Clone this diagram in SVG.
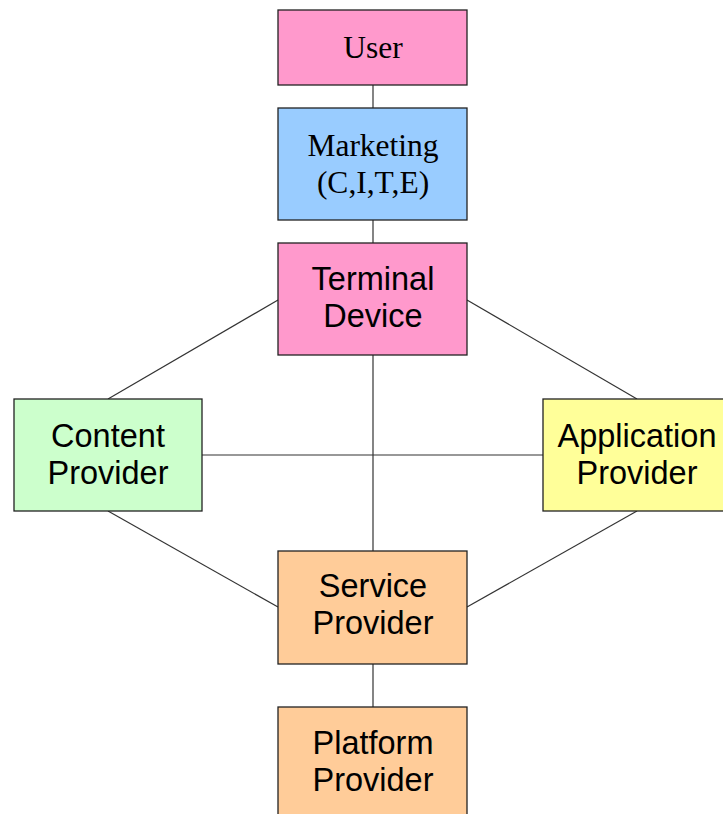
<svg xmlns="http://www.w3.org/2000/svg" width="723" height="814" viewBox="0 0 723 814">
  <style>
    .box { stroke: #222; stroke-width: 1.3; }
    .serif { font-family: "Liberation Serif", "Times New Roman", serif; font-size: 31.5px; fill: #000; text-anchor: middle; }
    .sans { font-family: "Liberation Sans", Arial, sans-serif; font-size: 32.5px; fill: #000; text-anchor: middle; }
    .link { stroke: #333; stroke-width: 1.2; fill: none; }
  </style>
  <rect width="723" height="814" fill="#fff"/>

  <!-- connectors -->
  <g id="connectors">
    <line class="link" x1="373" y1="85" x2="373" y2="108"/>
    <line class="link" x1="373" y1="220" x2="373" y2="243"/>
    <line class="link" x1="373" y1="355" x2="373" y2="551"/>
    <line class="link" x1="373" y1="664" x2="373" y2="707"/>
    <line class="link" x1="278" y1="300" x2="108" y2="399"/>
    <line class="link" x1="467" y1="300" x2="637" y2="399"/>
    <line class="link" x1="108" y1="511" x2="278" y2="607"/>
    <line class="link" x1="637" y1="511" x2="467" y2="607"/>
    <line class="link" x1="202" y1="455" x2="543" y2="455"/>
  </g>

  <g id="user">
    <rect class="box" x="278" y="10" width="189" height="75" fill="#FF99CC"/>
    <text class="serif" x="373" y="58">User</text>
  </g>

  <g id="marketing">
    <rect class="box" x="278" y="108" width="189" height="112" fill="#99CCFF"/>
    <text class="serif" x="373" y="156">Marketing</text>
    <text class="serif" x="373" y="193">(C,I,T,E)</text>
  </g>

  <g id="terminal-device">
    <rect class="box" x="278" y="243" width="189" height="112" fill="#FF99CC"/>
    <text class="sans" x="373" y="290">Terminal</text>
    <text class="sans" x="373" y="327">Device</text>
  </g>

  <g id="content-provider">
    <rect class="box" x="14" y="399" width="188" height="112" fill="#CCFFCC"/>
    <text class="sans" x="108" y="447">Content</text>
    <text class="sans" x="108" y="484">Provider</text>
  </g>

  <g id="application-provider">
    <rect class="box" x="543" y="399" width="189" height="112" fill="#FFFF99"/>
    <text class="sans" x="637" y="447">Application</text>
    <text class="sans" x="637" y="484">Provider</text>
  </g>

  <g id="service-provider">
    <rect class="box" x="278" y="551" width="189" height="113" fill="#FFCC99"/>
    <text class="sans" x="373" y="597">Service</text>
    <text class="sans" x="373" y="634">Provider</text>
  </g>

  <g id="platform-provider">
    <rect class="box" x="278" y="707" width="189" height="120" fill="#FFCC99"/>
    <text class="sans" x="373" y="754">Platform</text>
    <text class="sans" x="373" y="791">Provider</text>
  </g>
</svg>
